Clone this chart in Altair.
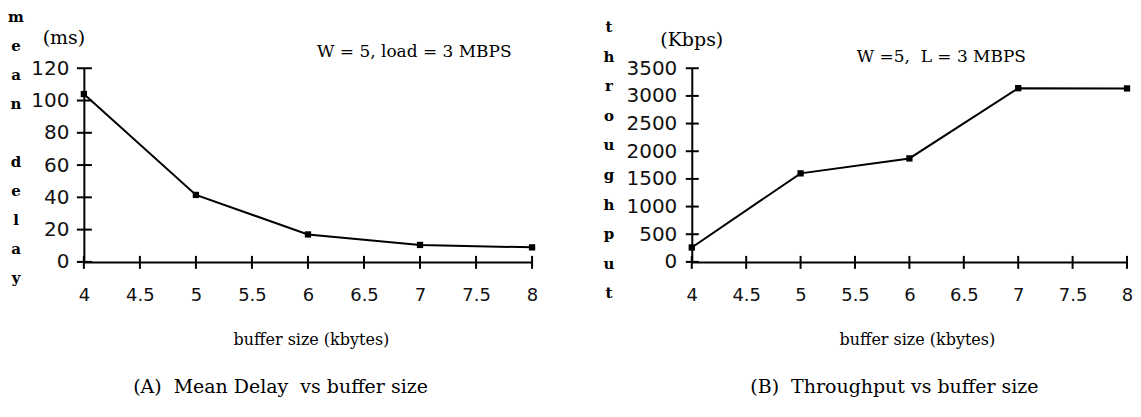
import altair as alt
import pandas as pd

# ---- data ----
buffer_kb = [4, 5, 6, 7, 8]
mean_delay_ms = [104, 41.5, 17, 10.5, 9]
throughput_kbps = [260, 1600, 1870, 3140, 3135]

x_ticks = [4, 4.5, 5, 5.5, 6, 6.5, 7, 7.5, 8]
delay_ticks = [0, 20, 40, 60, 80, 100, 120]
thr_ticks = [0, 500, 1000, 1500, 2000, 2500, 3000, 3500]

NB = "\u00a0"
left_letters_1 = ["m", "e", "a", "n"]
left_letters_2 = ["d", "e", "l", "a", "y"]
right_letters = ["t", "h", "r", "o", "u", "g", "h", "p", "u", "t"]

SERIF = "DejaVu Serif"
SANS = "DejaVu Sans"
H = 194


def txt(s, x, y, size, font=SERIF, weight="normal", align="center", baseline="middle", **kw):
    return alt.Chart(pd.DataFrame({"t": [s]})).mark_text(
        font=font, fontSize=size, fontWeight=weight, align=align,
        baseline=baseline, color="black", **kw
    ).encode(x=alt.value(x), y=alt.value(y), text="t:N")


def vletters(letters, x, y, step):
    return alt.Chart(pd.DataFrame({"k": [0]})).mark_text(
        text=letters, lineHeight=step, font=SERIF, fontSize=15, fontWeight="bold",
        align="center", baseline="alphabetic", color="black"
    ).encode(x=alt.value(x), y=alt.value(y))


def panel(yvals, yname, yticks, ydomain, W, letter_layers,
          unit, unit_x, unit_y, note, note_x, note_y, caption, cap_x, title_x, tick_half):
    df = pd.DataFrame({"buffer": buffer_kb, yname: yvals})
    xs = alt.Scale(domain=[4, 8], nice=False, zero=False)
    ys = alt.Scale(domain=ydomain, nice=False)
    xax = alt.Axis(values=x_ticks, format=".1~f", ticks=False, grid=False,
                   domainColor="black", domainWidth=2, labelFont=SANS,
                   labelFontSize=18, labelColor="#111", labelPadding=25, title=None,
                   labelFlush=False)
    yax = alt.Axis(values=yticks, format="d", ticks=False, grid=False,
                   domainColor="black", domainWidth=2, labelFont=SANS,
                   labelFontSize=20, labelColor="#111", labelPadding=15, title=None)
    base = alt.Chart(df).encode(
        x=alt.X("buffer:Q", scale=xs, axis=xax),
        y=alt.Y(f"{yname}:Q", scale=ys, axis=yax),
    )
    line = base.mark_line(color="black", strokeWidth=2)
    pts = base.mark_square(color="black", size=40, opacity=1)

    ytk = alt.Chart(pd.DataFrame({"v": yticks})).mark_rule(color="black", strokeWidth=2).encode(
        y=alt.Y("v:Q", scale=ys, axis=yax), x=alt.value(-tick_half), x2=alt.value(tick_half + 1))
    xtk = alt.Chart(pd.DataFrame({"v": x_ticks})).mark_rule(color="black", strokeWidth=2).encode(
        x=alt.X("v:Q", scale=xs, axis=xax), y=alt.value(H - 6), y2=alt.value(H + 7))

    layers = [
        line, pts, ytk, xtk, *letter_layers,
        txt(unit, unit_x, unit_y, 19),
        txt(note, note_x, note_y, 17),
        txt("buffer size (kbytes)", title_x, 272, 16),
        txt(caption, cap_x, 319, 19),
    ]
    return alt.layer(*layers).properties(width=W, height=H)


left = panel(mean_delay_ms, "delay", delay_ticks, [0, 120], 449,
             [vletters(left_letters_1, -68, -46, 29), vletters(left_letters_2, -68, 99, 29)],
             "(ms)", -20, -30, "W = 5, load = 3 MBPS", 331, -16,
             "(A)" + NB + NB + "Mean Delay" + NB + NB + "vs buffer size", 197, 228, 7)

right = panel(throughput_kbps, "thr", thr_ticks, [0, 3500], 436,
              [vletters(right_letters, -83, -36, 29.6)],
              "(Kbps)", 0, -28, "W =5," + NB + NB + "L = 3 MBPS", 250, -11,
              "(B)" + NB + NB + "Throughput vs buffer size", 203, 226, 6)

chart = alt.hconcat(left, right, spacing=160, bounds="flush").properties(
    padding={"left": 0, "top": 2, "right": 0, "bottom": 0},
    background="white",
).configure_view(stroke=None)

chart.save("out.html", embed_options={"renderer": "svg", "actions": False})
